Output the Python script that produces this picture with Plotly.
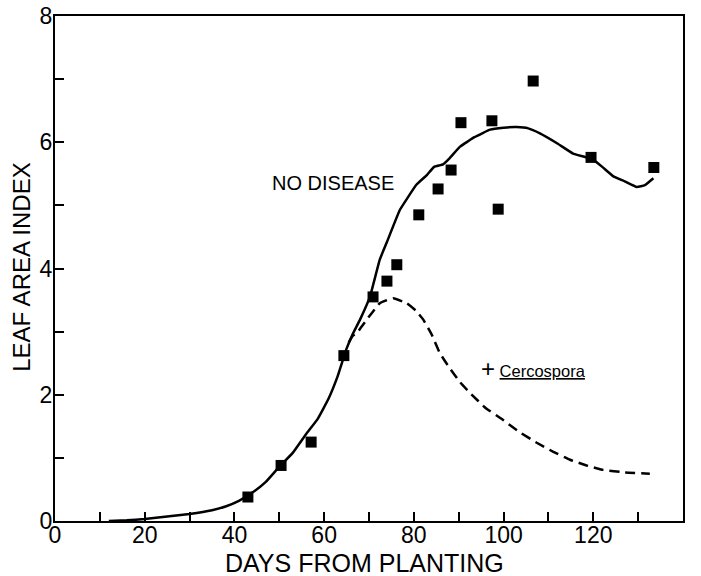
import plotly.graph_objects as go

# Observed leaf area index (squares)
obs_days = [43.0, 50.4, 57.1, 64.4, 70.9, 74.0, 76.2, 81.1, 85.4, 88.3, 90.5, 97.4, 98.8, 106.6, 119.5, 133.5]
obs_lai = [0.38, 0.88, 1.25, 2.62, 3.55, 3.80, 4.06, 4.85, 5.26, 5.56, 6.31, 6.34, 4.94, 6.97, 5.76, 5.60]

# Simulated, no disease (solid line)
nd_days = [12, 16, 20, 25, 30, 35, 38, 41, 44, 47, 50, 53, 56, 58.5, 61, 63, 65, 66.5, 68, 70.2,
           72.4, 74, 76.9, 80.6, 82.9, 84.5, 86.5, 88, 90.3, 93.5, 97.0, 100, 102.9, 105.5, 108.1,
           112, 115.5, 118, 120, 122, 124.5, 127, 129.7, 131.5, 133.4]
nd_lai = [0.0, 0.01, 0.03, 0.07, 0.11, 0.17, 0.23, 0.32, 0.45, 0.62, 0.86, 1.08, 1.38, 1.61, 1.94, 2.29, 2.73, 2.98, 3.19, 3.55,
          4.14, 4.42, 4.93, 5.33, 5.48, 5.61, 5.65, 5.75, 5.93, 6.08, 6.20, 6.23, 6.24, 6.22, 6.14,
          5.98, 5.82, 5.77, 5.72, 5.61, 5.46, 5.38, 5.29, 5.32, 5.43]

# Simulated, + Cercospora (dashed line)
cer_days = [65.5, 66.3, 67.3, 69.5, 72.4, 75.4, 78.4, 80.5, 82.1, 84.0, 85.8, 88.0, 90.3, 92.5, 96, 99.9, 103.5,
            107.4, 111, 114.8, 118.5, 122.2, 127, 132.6]
cer_lai = [2.83, 2.93, 2.98, 3.19, 3.45, 3.53, 3.45, 3.33, 3.19, 2.95, 2.66, 2.42, 2.20, 2.03, 1.79, 1.60, 1.41,
           1.24, 1.10, 0.97, 0.88, 0.81, 0.77, 0.75]

x_ticks = [0, 20, 40, 60, 80, 100, 120, 140]
y_ticks = [0, 2, 4, 6, 8]

FONT = "Liberation Sans, Arial, sans-serif"

fig = go.Figure()
fig.add_trace(go.Scatter(x=nd_days, y=nd_lai, mode="lines",
                         line=dict(color="black", width=2.5, shape="spline", smoothing=0.3),
                         showlegend=False, hoverinfo="skip"))
fig.add_trace(go.Scatter(x=cer_days, y=cer_lai, mode="lines",
                         line=dict(color="black", width=2.5, dash="10px,6px", shape="spline", smoothing=0.3),
                         showlegend=False, hoverinfo="skip"))
fig.add_trace(go.Scatter(x=obs_days, y=obs_lai, mode="markers",
                         marker=dict(symbol="square", size=11, color="black"),
                         showlegend=False))

fig.add_annotation(x=48.0, y=5.35, text="NO DISEASE", showarrow=False, xanchor="left",
                   font=dict(family=FONT, size=20, color="black"))
fig.add_annotation(x=94.6, y=2.41, text="<span style='font-size:24px'>+</span> <u>Cercospora</u>",
                   showarrow=False, xanchor="left",
                   font=dict(family=FONT, size=16.5, color="black"))

# Axis titles as annotations for exact placement
fig.add_annotation(xref="paper", yref="paper", x=0.4936, y=0, yshift=-42, xanchor="center", yanchor="middle",
                   text="DAYS FROM PLANTING", showarrow=False,
                   font=dict(family=FONT, size=25, color="black"))
fig.add_annotation(xref="paper", yref="paper", x=0, xshift=-33, y=0.5015, xanchor="center", yanchor="middle",
                   text="LEAF AREA INDEX", textangle=-90, showarrow=False,
                   font=dict(family=FONT, size=24, color="black"))

fig.update_xaxes(range=[0, 140], tickvals=x_ticks, ticks="inside", ticklen=9, tickwidth=2,
                 tickcolor="black", showline=True, linecolor="black", linewidth=2, mirror=True,
                 showgrid=False, zeroline=False, automargin=False, ticklabelstandoff=-8,
                 minor=dict(dtick=10, ticks="inside", ticklen=9, tickwidth=2, tickcolor="black", showgrid=False),
                 tickfont=dict(family=FONT, size=23, color="black"))
fig.update_yaxes(range=[0, 8], tickvals=y_ticks, ticks="inside", ticklen=9, tickwidth=2,
                 tickcolor="black", showline=True, linecolor="black", linewidth=2, mirror=True,
                 showgrid=False, zeroline=False, automargin=False, ticklabelstandoff=-4,
                 minor=dict(dtick=1, ticks="inside", ticklen=9, tickwidth=2, tickcolor="black", showgrid=False),
                 tickfont=dict(family=FONT, size=23, color="black"))

fig.update_layout(width=701, height=576, margin=dict(l=55, r=18, t=16, b=55),
                  plot_bgcolor="white", paper_bgcolor="white")

fig.write_html("out.html", config={"displayModeBar": False},
               post_script="document.body.style.margin='0';")
